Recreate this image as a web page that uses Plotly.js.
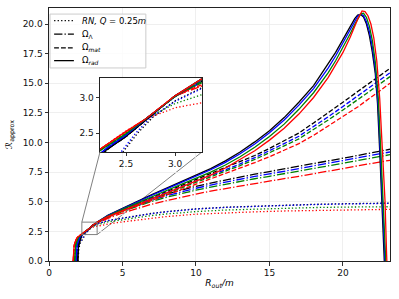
<!DOCTYPE html>
<html><head><meta charset="utf-8">
<script src="https://cdn.plot.ly/plotly-3.0.1.min.js"></script>
<style>html,body{margin:0;padding:0;background:#fff}</style>
</head><body><div id="chart" style="width:399px;height:299px"></div>
<script>
// ---- colours / series names ----
const colorNames = ['black', 'blue', 'green', 'red'];
const lineColors = ['#000000', '#0000ff', '#008000', '#ff0000'];
const legendNames = ['<i>RN, Q</i> = 0.25<i>m</i>', 'Ω<sub>Λ</sub>', 'Ω<sub><i>mat</i></sub>', 'Ω<sub><i>rad</i></sub>'];

// ---- early rise shared by the Ω curves (per colour) ----
const earlyX_black = [1.95, 1.97, 2.0, 2.05, 2.1, 2.2, 2.3, 2.5, 2.7, 3.0];
const earlyY_black = [0, 0.8, 1.2, 1.5, 1.75, 2.08, 2.26, 2.45, 2.68, 3.03];
const earlyX_blue = [1.85, 1.87, 1.9, 1.95, 2.0, 2.1, 2.2, 2.3, 2.5, 2.7, 3.0];
const earlyY_blue = [0, 0.8, 1.2, 1.5, 1.75, 2.02, 2.16, 2.28, 2.47, 2.7, 3.02];
const earlyX_green = [1.75, 1.77, 1.8, 1.85, 1.9, 2.0, 2.1, 2.235, 2.5, 2.7, 3.0];
const earlyY_green = [0, 0.8, 1.2, 1.5, 1.72, 1.97, 2.1, 2.25, 2.49, 2.7, 3.02];
const earlyX_red = [1.65, 1.67, 1.7, 1.75, 1.8, 1.9, 2.0, 2.1, 2.235, 2.5, 2.7, 3.0];
const earlyY_red = [0, 0.8, 1.2, 1.5, 1.7, 1.95, 2.07, 2.15, 2.27, 2.52, 2.7, 3.03];

// ---- Ω_Λ and Ω_mat (common R grid) ----
const omegaX = [3.28, 4, 5, 6, 7, 8, 9, 10, 11, 12, 13, 14, 15, 16, 17, 18, 19, 20, 21, 22, 23.2];
const lambdaY_black = [3.24, 3.75, 4.3, 4.8, 5.25, 5.65, 6.0, 6.3, 6.58, 6.85, 7.1, 7.33, 7.55, 7.77, 7.98, 8.2, 8.42, 8.65, 8.9, 9.15, 9.43];
const lambdaY_blue = [3.23, 3.71, 4.24, 4.71, 5.14, 5.51, 5.85, 6.14, 6.41, 6.67, 6.91, 7.14, 7.35, 7.57, 7.77, 7.99, 8.21, 8.44, 8.68, 8.93, 9.2];
const lambdaY_green = [3.22, 3.68, 4.18, 4.63, 5.03, 5.38, 5.7, 5.98, 6.24, 6.49, 6.73, 6.94, 7.15, 7.36, 7.57, 7.78, 8.0, 8.23, 8.47, 8.7, 8.97];
const lambdaY_red = [3.2, 3.6, 4.05, 4.45, 4.8, 5.1, 5.4, 5.65, 5.9, 6.12, 6.35, 6.55, 6.75, 6.95, 7.15, 7.35, 7.58, 7.8, 8.03, 8.25, 8.5];
const matY_black = [3.26, 3.8, 4.35, 4.85, 5.35, 5.85, 6.35, 6.85, 7.35, 7.85, 8.35, 8.9, 9.5, 10.15, 10.8, 11.65, 12.5, 13.4, 14.3, 15.2, 16.25];
const matY_blue = [3.25, 3.77, 4.31, 4.79, 5.28, 5.76, 6.25, 6.73, 7.22, 7.72, 8.19, 8.72, 9.29, 9.91, 10.53, 11.34, 12.17, 13.04, 13.91, 14.81, 15.88];
const matY_green = [3.24, 3.75, 4.27, 4.74, 5.21, 5.69, 6.16, 6.63, 7.1, 7.6, 8.05, 8.57, 9.12, 9.71, 10.31, 11.07, 11.9, 12.74, 13.59, 14.49, 15.56];
const matY_red = [3.22, 3.7, 4.2, 4.65, 5.1, 5.55, 6.0, 6.45, 6.9, 7.4, 7.8, 8.3, 8.8, 9.35, 9.9, 10.6, 11.4, 12.2, 13.0, 13.9, 15.0];

// ---- Ω_rad (peak and fall, per colour) ----
const radX_black = [3.28, 4, 5, 6, 7, 8, 9, 10, 11, 12, 13, 14, 15, 16, 17, 18, 19, 19.5, 20, 20.5, 20.8, 21.0, 21.2, 21.4, 21.6, 21.8, 22.0, 22.2, 22.35, 22.5, 22.65, 22.8, 22.83];
const radY_black = [3.28, 3.85, 4.45, 5.05, 5.6, 6.15, 6.7, 7.25, 7.8, 8.45, 9.2, 10.05, 11.0, 12.1, 13.4, 14.8, 16.6, 17.6, 18.7, 19.8, 20.45, 20.75, 20.8, 20.6, 20.0, 19.0, 17.6, 15.8, 13.3, 9.3, 5.0, 0.4, -0.5];
const radX_blue = [3.28, 4, 5, 6, 7, 8, 9, 10, 11, 12, 13, 14, 15, 16, 17, 18, 19, 19.5, 20, 20.5, 20.8, 21.0, 21.2, 21.4, 21.6, 21.8, 22.0, 22.2, 22.4, 22.55, 22.7, 22.85, 22.88];
const radY_blue = [3.28, 3.83, 4.42, 5.0, 5.55, 6.08, 6.62, 7.15, 7.7, 8.32, 9.05, 9.88, 10.82, 11.9, 13.15, 14.55, 16.3, 17.3, 18.4, 19.55, 20.25, 20.65, 20.85, 20.7, 20.2, 19.35, 18.05, 16.2, 13.0, 9.2, 5.0, 0.4, -0.5];
const radX_green = [3.28, 4, 5, 6, 7, 8, 9, 10, 11, 12, 13, 14, 15, 16, 17, 18, 19, 19.5, 20, 20.5, 20.8, 21.0, 21.2, 21.4, 21.6, 21.8, 22.0, 22.2, 22.4, 22.6, 22.75, 22.9, 22.93];
const radY_green = [3.28, 3.8, 4.35, 4.9, 5.42, 5.95, 6.47, 6.98, 7.5, 8.1, 8.8, 9.6, 10.5, 11.55, 12.8, 14.2, 15.9, 16.9, 18.0, 19.2, 19.95, 20.45, 20.85, 20.9, 20.55, 19.8, 18.6, 16.8, 13.8, 8.6, 4.9, 0.4, -0.5];
const radX_red = [3.28, 4, 5, 6, 7, 8, 9, 10, 11, 12, 13, 14, 15, 16, 17, 18, 19, 19.5, 20, 20.5, 20.8, 21.0, 21.3, 21.5, 21.7, 21.9, 22.1, 22.3, 22.5, 22.7, 22.86, 22.97, 23.0];
const radY_red = [3.28, 3.75, 4.25, 4.75, 5.25, 5.75, 6.25, 6.75, 7.25, 7.85, 8.55, 9.3, 10.2, 11.2, 12.4, 13.8, 15.5, 16.5, 17.6, 18.9, 19.8, 20.4, 21.1, 21.05, 20.7, 20.0, 18.8, 16.9, 13.7, 9.0, 5.1, 0.5, -0.5];

// ---- RN, Q = 0.25m (dotted) ----
const rnX_early_black = [1.97, 1.99, 2.03, 2.1, 2.25, 2.47, 2.62, 2.77, 3.0, 3.28];
const rnY_early_black = [0, 0.6, 1.0, 1.45, 1.8, 2.23, 2.5, 2.72, 2.96, 3.15];
const rnX_early_blue = [1.88, 1.9, 1.95, 2.05, 2.2, 2.45, 2.6, 2.75, 3.0, 3.28];
const rnY_early_blue = [0, 0.6, 1.0, 1.45, 1.8, 2.23, 2.5, 2.72, 2.95, 3.14];
const rnX_early_green = [1.77, 1.8, 1.85, 1.95, 2.1, 2.3, 2.5, 2.7, 3.0, 3.28];
const rnY_early_green = [0, 0.6, 1.0, 1.45, 1.9, 2.25, 2.5, 2.7, 2.92, 3.05];
const rnX_early_red = [1.65, 1.68, 1.72, 1.8, 1.95, 2.1, 2.235, 2.5, 2.7, 3.0, 3.28];
const rnY_early_red = [0, 0.6, 1.0, 1.45, 1.85, 2.12, 2.27, 2.53, 2.7, 2.86, 2.95];
const rnX_late = [4, 5, 6, 7, 8, 10, 12, 14, 16, 18, 20, 23.2];
const rnY_late_black = [3.41, 3.62, 3.84, 4.02, 4.17, 4.4, 4.54, 4.64, 4.72, 4.78, 4.83, 4.89];
const rnY_late_blue = [3.4, 3.6, 3.82, 4.0, 4.15, 4.38, 4.52, 4.62, 4.7, 4.76, 4.81, 4.87];
const rnY_late_green = [3.3, 3.5, 3.68, 3.84, 3.97, 4.17, 4.3, 4.39, 4.46, 4.51, 4.55, 4.58];
const rnY_late_red = [3.12, 3.3, 3.47, 3.62, 3.75, 3.95, 4.07, 4.15, 4.22, 4.27, 4.31, 4.36];

// ---- axes ----
const xTicks = [0, 5, 10, 15, 20];
const yTicks = [0, 2.5, 5, 7.5, 10, 12.5, 15, 17.5, 20];
const insetTicks = [2.5, 3.0];
const xRange = [0, 23.2];
const yRange = [0, 21.35];
const insetXRange = [2.235, 3.275];
const insetYRange = [2.23, 3.28];
const insetXDomain = [0.1496, 0.4487];
const insetYDomain = [0.431, 0.722];

// ---- build traces ----
const early = {
  black: [earlyX_black, earlyY_black], blue: [earlyX_blue, earlyY_blue],
  green: [earlyX_green, earlyY_green], red: [earlyX_red, earlyY_red]
};
const rnEarly = {
  black: [rnX_early_black, rnY_early_black], blue: [rnX_early_blue, rnY_early_blue],
  green: [rnX_early_green, rnY_early_green], red: [rnX_early_red, rnY_early_red]
};
const rnLate = {black: rnY_late_black, blue: rnY_late_blue, green: rnY_late_green, red: rnY_late_red};
const lambdaY = {black: lambdaY_black, blue: lambdaY_blue, green: lambdaY_green, red: lambdaY_red};
const matY = {black: matY_black, blue: matY_blue, green: matY_green, red: matY_red};
const radXY = {
  black: [radX_black, radY_black], blue: [radX_blue, radY_blue],
  green: [radX_green, radY_green], red: [radX_red, radY_red]
};

const DOT = '1.3px,2.2px';
const DASHDOT = '8.3px,2.1px,1.3px,2.1px';
const DASH = '4.8px,2.1px';
const dashes = [DOT, DASHDOT, DASH, 'solid'];
const LW = 1.3;

function seriesFor(family, c) {
  if (family === 0) return [rnEarly[c][0].concat(rnX_late), rnEarly[c][1].concat(rnLate[c])];
  if (family === 1) return [early[c][0].concat(omegaX), early[c][1].concat(lambdaY[c])];
  if (family === 2) return [early[c][0].concat(omegaX), early[c][1].concat(matY[c])];
  return [early[c][0].concat(radXY[c][0]), early[c][1].concat(radXY[c][1])];
}

const traces = [];
[['x', 'y'], ['x2', 'y2']].forEach(function (ax) {
  for (let f = 0; f < 4; f++) {
    colorNames.forEach(function (c, i) {
      const s = seriesFor(f, c);
      traces.push({
        x: s[0], y: s[1], xaxis: ax[0], yaxis: ax[1], type: 'scatter', mode: 'lines',
        name: legendNames[f] + ' (' + c + ')',
        line: {color: lineColors[i], width: LW, dash: dashes[f]},
        showlegend: false, hoverinfo: 'skip'
      });
    });
  }
});

// ---- inset marker geometry (rectangle in data coords + connectors to inset corners) ----
const insetBL = [insetXDomain[0] * xRange[1], insetYDomain[0] * yRange[1]];
const insetBR = [insetXDomain[1] * xRange[1], insetYDomain[0] * yRange[1]];
const markColor = '#808080';
const shapes = [
  {type: 'rect', xref: 'x', yref: 'y', x0: insetXRange[0], x1: insetXRange[1], y0: insetYRange[0], y1: insetYRange[1],
    line: {color: markColor, width: 1}, fillcolor: 'rgba(0,0,0,0)', layer: 'above'},
  {type: 'line', xref: 'x', yref: 'y', x0: insetXRange[0], y0: insetYRange[1], x1: insetBL[0], y1: insetBL[1],
    line: {color: markColor, width: 1}, layer: 'above'},
  {type: 'line', xref: 'x', yref: 'y', x0: insetXRange[1], y0: insetYRange[0], x1: insetBR[0], y1: insetBR[1],
    line: {color: markColor, width: 1}, layer: 'below'}
];

// ---- compact legend (box, line samples, labels) in paper coords ----
const legBox = {x0: 0.003, x1: 0.284, y0: 0.763, y1: 0.976};
const legRows = [0.950, 0.897, 0.842, 0.792];
const legSample = [0.015, 0.073];
const legTextX = 0.092;
shapes.push({type: 'rect', xref: 'paper', yref: 'paper', x0: legBox.x0, x1: legBox.x1, y0: legBox.y0, y1: legBox.y1,
  line: {color: '#cccccc', width: 1}, fillcolor: 'rgba(255,255,255,0.8)', layer: 'above'});
const annotations = [];
legendNames.forEach(function (n, f) {
  shapes.push({type: 'line', xref: 'paper', yref: 'paper', x0: legSample[0], x1: legSample[1], y0: legRows[f], y1: legRows[f],
    line: {color: '#000', width: LW, dash: dashes[f]}, layer: 'above'});
  annotations.push({xref: 'paper', yref: 'paper', x: legTextX, y: legRows[f], xanchor: 'left', yanchor: 'middle',
    text: n, showarrow: false, font: {size: 8.5, color: '#000'}});
});

const axisCommon = {
  ticks: 'outside', ticklen: 3.5, tickwidth: 0.8, tickcolor: '#000',
  showline: true, mirror: true, linecolor: '#222', linewidth: 1,
  zeroline: false, tickfont: {size: 9, color: '#111'}
};

const layout = {
  width: 399, height: 299,
  margin: {l: 49, r: 9, t: 8, b: 38},
  paper_bgcolor: '#ffffff', plot_bgcolor: '#ffffff',
  font: {family: 'DejaVu Sans', size: 9, color: '#000'},
  showlegend: false,
  xaxis: Object.assign({}, axisCommon, {range: xRange, tickvals: xTicks, showgrid: true, gridcolor: '#ebebeb', gridwidth: 0.8,
    title: {text: '<i>R</i><sub><i>out</i></sub><i>/m</i>', font: {size: 9}, standoff: 2}}),
  yaxis: Object.assign({}, axisCommon, {range: yRange, tickvals: yTicks, tickformat: '.1f', showgrid: true, gridcolor: '#ebebeb', gridwidth: 0.8,
    title: {text: 'ℛ<sub>approx</sub>', font: {size: 9}, standoff: 8}}),
  xaxis2: Object.assign({}, axisCommon, {domain: insetXDomain, anchor: 'y2', range: insetXRange, tickvals: insetTicks, tickformat: '.1f', showgrid: false}),
  yaxis2: Object.assign({}, axisCommon, {domain: insetYDomain, anchor: 'x2', range: insetYRange, tickvals: insetTicks, tickformat: '.1f', showgrid: false}),
  shapes: shapes,
  annotations: annotations
};

Plotly.newPlot('chart', traces, layout, {staticPlot: true, displayModeBar: false});
</script>
</body></html>
